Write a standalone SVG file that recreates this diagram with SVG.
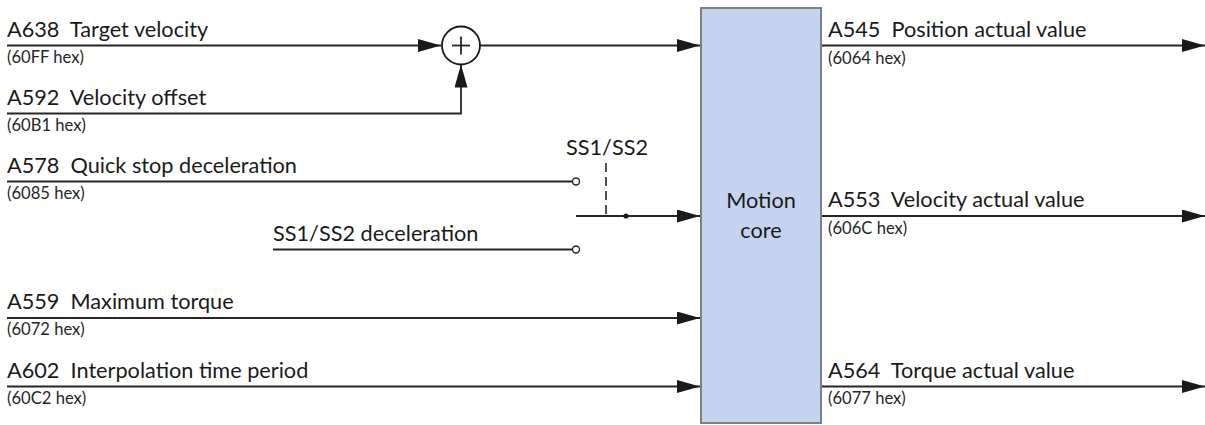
<svg xmlns="http://www.w3.org/2000/svg" width="1205" height="425" viewBox="0 0 1205 425">
<defs>
<marker id="arr" viewBox="0 0 23 13" refX="23" refY="6.5" markerWidth="23" markerHeight="13" markerUnits="userSpaceOnUse" orient="auto">
<path d="M0,0 L23,6.5 L0,13 Z" fill="#1a1a1a"/>
</marker>
</defs>
<style>
.lbl{font-family:Lato,"Liberation Sans",sans-serif;font-size:21.7px;fill:#1a1a1a}
.hex{font-family:Lato,"Liberation Sans",sans-serif;font-size:16.6px;fill:#262626}
.ln{stroke:#262626;stroke-width:1.8;fill:none}
.arr{marker-end:url(#arr)}
.dash{stroke:#262626;stroke-width:1.6;stroke-dasharray:9,5;fill:none}
.open{fill:#fff;stroke:#262626;stroke-width:1.4}
</style>
<rect width="1205" height="425" fill="#fff"/>
<g id="connectors">
<line class="ln arr" x1="7" y1="45.5" x2="441" y2="45.5"/>
<line class="ln arr" x1="480" y1="45.5" x2="700" y2="45.5"/>
<polyline class="ln arr" points="7,113.5 461,113.5 461,64.5"/>
<line class="ln" x1="7" y1="181.5" x2="572" y2="181.5"/>
<line class="ln" x1="273" y1="249.5" x2="572" y2="249.5"/>
<line class="ln arr" x1="576" y1="216" x2="700" y2="216"/>
<line class="dash" x1="606" y1="163" x2="606" y2="216"/>
<line class="ln arr" x1="7" y1="318" x2="700" y2="318"/>
<line class="ln arr" x1="7" y1="386.5" x2="700" y2="386.5"/>
<line class="ln arr" x1="822" y1="45.5" x2="1205" y2="45.5"/>
<line class="ln arr" x1="822" y1="216" x2="1205" y2="216"/>
<line class="ln arr" x1="822" y1="386.5" x2="1205" y2="386.5"/>
<circle class="open" cx="576" cy="181.5" r="3.5"/>
<circle class="open" cx="576" cy="249.5" r="3.5"/>
<circle cx="626" cy="216" r="2.6" fill="#1a1a1a"/>
</g>
<g id="sum">
<circle cx="461" cy="45.5" r="19" fill="#fff" stroke="#1a1a1a" stroke-width="1.8"/>
<line class="ln" x1="452" y1="45.5" x2="470" y2="45.5"/>
<line class="ln" x1="461" y1="36.5" x2="461" y2="54.5"/>
</g>
<g id="motion-core">
<rect x="701" y="8" width="120" height="415" fill="#c5d4ee" stroke="#7f7f7f" stroke-width="2"/>
<text class="lbl" x="761" y="208" text-anchor="middle">Motion</text>
<text class="lbl" x="761" y="238" text-anchor="middle">core</text>
</g>
<g id="in-target-velocity">
<text class="lbl" x="7" y="37" xml:space="preserve">A638  Target velocity</text>
<text class="hex" x="7" y="63">(60FF hex)</text>
</g>
<g id="in-velocity-offset">
<text class="lbl" x="7" y="105" xml:space="preserve">A592  Velocity offset</text>
<text class="hex" x="7" y="131">(60B1 hex)</text>
</g>
<g id="in-quick-stop">
<text class="lbl" x="7" y="173" xml:space="preserve">A578  Quick stop deceleration</text>
<text class="hex" x="7" y="199">(6085 hex)</text>
</g>
<g id="in-ss-decel">
<text class="lbl" x="273" y="241">SS1/SS2 deceleration</text>
</g>
<g id="switch-label">
<text class="lbl" x="566" y="155">SS1/SS2</text>
</g>
<g id="in-max-torque">
<text class="lbl" x="7" y="309" xml:space="preserve">A559  Maximum torque</text>
<text class="hex" x="7" y="335">(6072 hex)</text>
</g>
<g id="in-interpolation">
<text class="lbl" x="7" y="378" xml:space="preserve">A602  Interpolation time period</text>
<text class="hex" x="7" y="404">(60C2 hex)</text>
</g>
<g id="out-position">
<text class="lbl" x="828" y="37" xml:space="preserve">A545  Position actual value</text>
<text class="hex" x="828" y="64">(6064 hex)</text>
</g>
<g id="out-velocity">
<text class="lbl" x="828" y="207" xml:space="preserve">A553  Velocity actual value</text>
<text class="hex" x="828" y="234">(606C hex)</text>
</g>
<g id="out-torque">
<text class="lbl" x="828" y="378" xml:space="preserve">A564  Torque actual value</text>
<text class="hex" x="828" y="404">(6077 hex)</text>
</g>
</svg>
